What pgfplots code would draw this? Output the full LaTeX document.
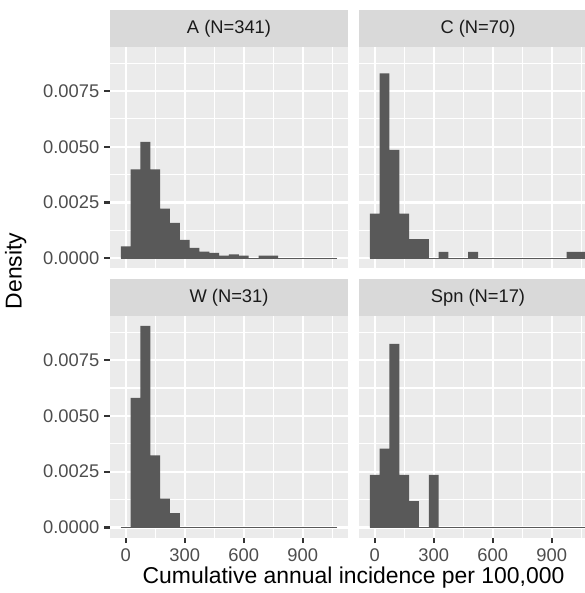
\documentclass[border=0pt]{standalone}
\usepackage{pgfplots}
\usepackage{pgfplotstable}
\pgfplotsset{compat=1.18}
\usepackage{fontspec}
\setmainfont{Liberation Sans}
\definecolor{panelbg}{HTML}{EBEBEB}
\definecolor{stripbg}{HTML}{D9D9D9}
\definecolor{barfill}{HTML}{595959}
\definecolor{ticklab}{HTML}{4D4D4D}
\definecolor{tickcol}{HTML}{333333}
\definecolor{striptext}{HTML}{1A1A1A}

\pgfplotstableread{
x A C W S
-25 0.000528 0.002000 0.000000 0.002353
25 0.003988 0.008286 0.005806 0.003529
75 0.005220 0.004857 0.009032 0.008235
125 0.003988 0.002000 0.003226 0.002353
175 0.002229 0.000857 0.001290 0.001176
225 0.001584 0.000857 0.000645 0.000000
275 0.000821 0.000000 0.000000 0.002353
325 0.000469 0.000286 0.000000 0.000000
375 0.000293 0.000000 0.000000 0.000000
425 0.000235 0.000000 0.000000 0.000000
475 0.000117 0.000286 0.000000 0.000000
525 0.000176 0.000000 0.000000 0.000000
575 0.000117 0.000000 0.000000 0.000000
625 0.000000 0.000000 0.000000 0.000000
675 0.000117 0.000000 0.000000 0.000000
725 0.000117 0.000000 0.000000 0.000000
775 0.000000 0.000000 0.000000 0.000000
825 0.000000 0.000000 0.000000 0.000000
875 0.000000 0.000000 0.000000 0.000000
925 0.000000 0.000000 0.000000 0.000000
975 0.000000 0.000286 0.000000 0.000000
1025 0.000000 0.000286 0.000000 0.000000
1075 0.000000 0.000000 0.000000 0.000000
}\datatable

\pgfplotsset{
  panel/.style={
    scale only axis, width=114.24pt, height=106.37pt,
    xmin=-80, xmax=1130, ymin=-0.000452, ymax=0.009484,
    axis background/.style={fill=panelbg},
    axis line style={draw=none},
    xtick={0,300,600,900}, ytick={0,0.0025,0.005,0.0075},
    minor xtick={150,450,750,1050},
    minor ytick={0.00125,0.00375,0.00625,0.00875},
    grid=both,
    major grid style={white, line width=1.07pt},
    minor grid style={white, line width=0.53pt},
    tick align=outside, major tick length=2.75pt, minor tick length=0pt,
    tick style={tickcol, line width=1.07pt},
    xtick pos=bottom, ytick pos=left,
    scaled y ticks=false, scaled x ticks=false,
    ticklabel style={font=\fontsize{8.8}{10}\selectfont, text=ticklab, inner sep=0pt},
    xticklabel style={anchor=north, yshift=-2.2pt},
    yticklabel style={anchor=east, xshift=-2.2pt},
    xticklabels={}, yticklabels={},
  },
  nox/.style={xtick style={draw=none}},
  noy/.style={ytick style={draw=none}},
  labx/.style={xticklabels={0,300,600,900}},
  laby/.style={yticklabels={0.0000,0.0025,0.0050,0.0075}},
}

\begin{document}
\begin{tikzpicture}
\path[use as bounding box, clip] (0,0) rectangle (280.8pt,-284.64pt);

% top-left A
\begin{axis}[panel, nox, laby, anchor=south west, at={(52.8pt,-128.78pt)}]
\addplot[ybar interval, fill=barfill, draw=none] table[x=x, y=A] {\datatable};
\addplot[barfill, line width=0.5pt] coordinates {(-25,0) (1075,0)};
\end{axis}
% top-right C
\begin{axis}[panel, nox, noy, anchor=south west, at={(172.32pt,-128.78pt)}]
\addplot[ybar interval, fill=barfill, draw=none] table[x=x, y=C] {\datatable};
\addplot[barfill, line width=0.5pt] coordinates {(-25,0) (1075,0)};
\end{axis}
% bottom-left W
\begin{axis}[panel, labx, laby, anchor=south west, at={(52.8pt,-258.0pt)}]
\addplot[ybar interval, fill=barfill, draw=none] table[x=x, y=W] {\datatable};
\addplot[barfill, line width=0.5pt] coordinates {(-25,0) (1075,0)};
\end{axis}
% bottom-right Spn
\begin{axis}[panel, noy, labx, anchor=south west, at={(172.32pt,-258.0pt)}]
\addplot[ybar interval, fill=barfill, draw=none] table[x=x, y=S] {\datatable};
\addplot[barfill, line width=0.5pt] coordinates {(-25,0) (1075,0)};
\end{axis}

% strips
\fill[stripbg] (52.8pt,-4.8pt) rectangle (167.04pt,-22.42pt);
\fill[stripbg] (172.32pt,-4.8pt) rectangle (286.56pt,-22.42pt);
\fill[stripbg] (52.8pt,-133.92pt) rectangle (167.04pt,-151.63pt);
\fill[stripbg] (172.32pt,-133.92pt) rectangle (286.56pt,-151.63pt);
\begin{scope}[every node/.style={text=striptext, font=\fontsize{8.8}{10}\selectfont, inner sep=0pt}]
\node at (109.92pt,-13.61pt) {A (N=341)};
\node at (229.44pt,-13.61pt) {C (N=70)};
\node at (109.92pt,-142.78pt) {W (N=31)};
\node at (229.44pt,-142.78pt) {Spn (N=17)};
\end{scope}

% axis titles
\node[rotate=90, inner sep=0pt, font=\fontsize{11}{13}\selectfont] at (7.5pt,-130pt) {Density};
\node[anchor=base, inner sep=0pt, font=\fontsize{11}{13}\selectfont] at (169.68pt,-280.3pt) {Cumulative annual incidence per 100,000};
\end{tikzpicture}
\end{document}
